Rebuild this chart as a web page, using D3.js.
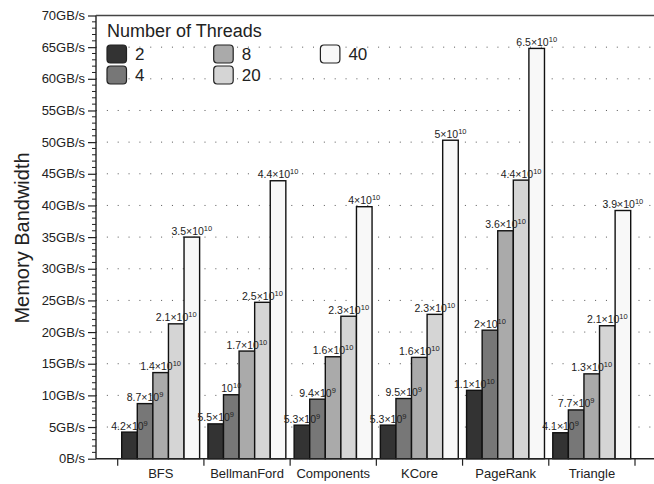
<!DOCTYPE html>
<html>
<head>
<meta charset="utf-8">
<script src="https://cdn.jsdelivr.net/npm/d3@7"></script>
<style>
  body { margin: 0; background: #fff; }
  svg { font-family: "Liberation Sans", Arial, Helvetica, sans-serif; }
</style>
</head>
<body>
<div id="chart"></div>
<script>
// values, bytes per second
const categories = ["BFS", "BellmanFord", "Components", "KCore", "PageRank", "Triangle"];
const threads = ["2", "4", "8", "20", "40"];
const threadColors = ["#333333", "#777777", "#aaaaaa", "#d5d5d5", "#f8f8f8"];

const bw2  = [4.2e9, 5.5e9, 5.3e9, 5.3e9, 10.8e9, 4.1e9];
const bw4  = [8.7e9, 10.1e9, 9.4e9, 9.5e9, 20.3e9, 7.7e9];
const bw8  = [13.6e9, 17.0e9, 16.1e9, 16.0e9, 36.0e9, 13.4e9];
const bw20 = [21.3e9, 24.7e9, 22.5e9, 22.8e9, 44.0e9, 21.0e9];
const bw40 = [35.0e9, 43.9e9, 39.8e9, 50.3e9, 64.8e9, 39.2e9];
const series = [bw2, bw4, bw8, bw20, bw40];

const yTicks = d3.range(0, 70e9 + 1, 5e9);
const yMinorTicks = d3.range(0, 70e9 + 1, 1e9).filter(v => v % 5e9 !== 0);

const width = 654;
const height = 484;

const svg = d3.select("#chart").append("svg")
    .attr("width", width)
    .attr("height", height);

const y = d3.scaleLinear().domain([0, 70e9]).range([458.7, 15.5]);
const x = d3.scaleBand().domain(categories).range([117.7, 635]);
const xInner = d3.scaleBand().domain(threads).range([4, x.bandwidth() - 4.3]);

const left = 96;

// dotted grid
svg.append("g")
    .selectAll("line")
    .data(yTicks.filter(v => v > 0 && v < 70e9))
    .enter().append("line")
        .attr("x1", left)
        .attr("x2", width)
        .attr("y1", d => y(d))
        .attr("y2", d => y(d))
        .attr("stroke", "#555")
        .attr("stroke-width", 1)
        .attr("stroke-dasharray", "1 9.85");

// bars
const groups = svg.append("g")
    .selectAll("g")
    .data(categories)
    .enter().append("g")
        .attr("transform", d => "translate(" + x(d) + ",0)");

groups.selectAll("rect")
    .data((c, ci) => threads.map((t, ti) => ({t: t, ti: ti, v: series[ti][ci]})))
    .enter().append("rect")
        .attr("x", d => xInner(d.t))
        .attr("width", xInner.bandwidth())
        .attr("y", d => y(d.v))
        .attr("height", d => y(0) - y(d.v))
        .attr("fill", d => threadColors[d.ti])
        .attr("stroke", "#111")
        .attr("stroke-width", 1.4);

// value labels like 4.2x10^9
const sciParts = v => {
    let e = Math.floor(Math.log10(v));
    let m = +(v / Math.pow(10, e)).toFixed(1);
    if (m >= 10) { m = m / 10; e += 1; }
    return {m: m === 1 ? "" : String(m) + "\u00d7", e: e};
};

const labels = groups.selectAll("text")
    .data((c, ci) => threads.map((t, ti) => ({t: t, v: series[ti][ci]})))
    .enter().append("text")
        .attr("x", d => xInner(d.t) + xInner.bandwidth() / 2)
        .attr("y", d => y(d.v) - 2.5)
        .attr("text-anchor", "middle")
        .attr("font-size", 10.5)
        .attr("fill", "#222");

labels.append("tspan")
    .text(d => sciParts(d.v).m + "10");
labels.append("tspan")
    .attr("dy", -4)
    .attr("font-size", 7.5)
    .text(d => sciParts(d.v).e);

// y axis
const yAxis = d3.axisLeft(y)
    .tickValues(yTicks)
    .tickSize(8)
    .tickPadding(3)
    .tickFormat(v => v === 0 ? "0B/s" : (v / 1e9) + "GB/s");

const gy = svg.append("g")
    .attr("transform", "translate(" + left + ",0)")
    .call(yAxis);
gy.select(".domain").remove();
gy.selectAll("line").attr("stroke", "#222").attr("stroke-width", 1.2);
gy.selectAll("text")
    .attr("font-size", 13)
    .attr("font-family", "'Liberation Sans', Arial, sans-serif")
    .attr("fill", "#222");

svg.append("g")
    .selectAll("line")
    .data(yMinorTicks)
    .enter().append("line")
        .attr("x1", left - 4)
        .attr("x2", left)
        .attr("y1", d => y(d))
        .attr("y2", d => y(d))
        .attr("stroke", "#222")
        .attr("stroke-width", 1);

// frame lines
svg.append("line")
    .attr("x1", left).attr("x2", left)
    .attr("y1", y(70e9)).attr("y2", y(0))
    .attr("stroke", "#222").attr("stroke-width", 1.4);
svg.append("line")
    .attr("x1", left).attr("x2", width)
    .attr("y1", y(0)).attr("y2", y(0))
    .attr("stroke", "#222").attr("stroke-width", 1.4);
svg.append("line")
    .attr("x1", left).attr("x2", width)
    .attr("y1", y(70e9)).attr("y2", y(70e9))
    .attr("stroke", "#444").attr("stroke-width", 1.4);

// x ticks at group boundaries, labels centred
const bounds = categories.map(c => x(c)).concat([x.range()[1]]);
svg.append("g")
    .selectAll("line")
    .data(bounds)
    .enter().append("line")
        .attr("x1", d => d).attr("x2", d => d)
        .attr("y1", y(0)).attr("y2", y(0) + 7)
        .attr("stroke", "#222").attr("stroke-width", 1.2);

svg.append("g")
    .selectAll("text")
    .data(categories)
    .enter().append("text")
        .attr("x", d => x(d) + x.bandwidth() / 2)
        .attr("y", 478)
        .attr("text-anchor", "middle")
        .attr("font-size", 13)
        .attr("fill", "#222")
        .text(d => d);

// y title
svg.append("text")
    .attr("transform", "translate(29,238) rotate(-90)")
    .attr("text-anchor", "middle")
    .attr("font-size", 20)
    .attr("fill", "#222")
    .text("Memory Bandwidth");

// legend
const legend = svg.append("g");
legend.append("text")
    .attr("x", 107)
    .attr("y", 36.5)
    .attr("font-size", 18)
    .attr("fill", "#222")
    .text("Number of Threads");

const items = legend.selectAll("g")
    .data(threads)
    .enter().append("g")
        .attr("transform", (d, i) => "translate(" + (107 + Math.floor(i / 2) * 106.7) + "," + (45 + (i % 2) * 21) + ")");

items.append("rect")
    .attr("width", 19.5)
    .attr("height", 18)
    .attr("rx", 3.5)
    .attr("fill", (d, i) => threadColors[i])
    .attr("stroke", "#222")
    .attr("stroke-width", 1.2);

items.append("text")
    .attr("x", 28)
    .attr("y", 14.5)
    .attr("font-size", 17)
    .attr("fill", "#222")
    .text(d => d);
</script>
</body>
</html>
